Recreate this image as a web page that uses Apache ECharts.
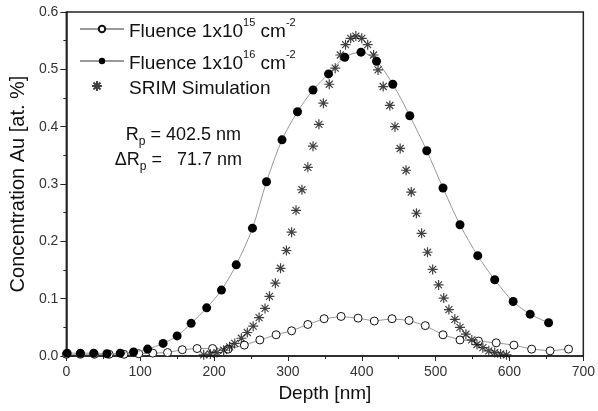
<!DOCTYPE html>
<html>
<head>
<meta charset="utf-8">
<script src="https://cdn.jsdelivr.net/npm/echarts@6/dist/echarts.min.js"></script>
<style>
html,body{margin:0;padding:0;background:#fff;}
#chart{width:598px;height:411px;}
</style>
</head>
<body>
<div id="chart"></div>
<script>
// ---- data ----
var seriesNames = ['Fluence 1x10^15 cm^-2', 'Fluence 1x10^16 cm^-2', 'SRIM Simulation'];

var lowX = [0, 19, 38, 58, 78, 98, 117, 137, 157, 177, 198, 219, 241, 262, 284, 305, 327, 349, 372, 395, 417, 441, 464, 486, 510, 533, 558, 582, 606, 630, 655, 680];
var lowY = [0.003, 0.003, 0.003, 0.003, 0.003, 0.004, 0.005, 0.006, 0.011, 0.013, 0.013, 0.012, 0.019, 0.028, 0.037, 0.044, 0.055, 0.065, 0.069, 0.066, 0.061, 0.065, 0.062, 0.053, 0.037, 0.028, 0.026, 0.023, 0.019, 0.012, 0.009, 0.012];

var highX = [1, 19, 37, 55, 73, 91, 110, 131, 150, 169, 190, 210, 230, 252, 271, 292, 313, 334, 355, 377, 399, 420, 442, 465, 488, 510, 533, 557, 580, 605, 628, 653];
var highY = [0.005, 0.005, 0.005, 0.004, 0.005, 0.007, 0.012, 0.022, 0.035, 0.057, 0.084, 0.115, 0.159, 0.223, 0.304, 0.377, 0.426, 0.464, 0.492, 0.521, 0.530, 0.514, 0.474, 0.419, 0.358, 0.293, 0.229, 0.175, 0.133, 0.095, 0.073, 0.058];

var srimX = [186, 195, 204, 213, 221, 228, 237, 245, 253, 261, 269, 275, 283, 290, 298, 305, 311, 319, 327, 334, 342, 348, 356, 364, 371, 378, 385, 392, 400, 408, 416, 422, 429, 438, 445, 452, 460, 467, 474, 481, 489, 496, 504, 511, 518, 526, 533, 541, 549, 556, 564, 572, 580, 588, 596];
var srimY = [0.002, 0.0035, 0.006, 0.010, 0.016, 0.022, 0.031, 0.041, 0.052, 0.067, 0.083, 0.104, 0.127, 0.153, 0.184, 0.216, 0.254, 0.290, 0.329, 0.366, 0.404, 0.441, 0.474, 0.502, 0.525, 0.543, 0.554, 0.558, 0.554, 0.543, 0.525, 0.499, 0.470, 0.437, 0.400, 0.362, 0.324, 0.286, 0.249, 0.214, 0.181, 0.151, 0.124, 0.101, 0.081, 0.064, 0.050, 0.038, 0.028, 0.020, 0.0145, 0.009, 0.006, 0.0035, 0.002];

var xTicks = {min: 0, max: 700, interval: 100};
var yTicks = {min: 0, max: 0.6, interval: 0.1};

function pairs(xs, ys) { return xs.map(function (x, i) { return [x, ys[i]]; }); }

var FONT = 'Liberation Sans, Arial';
var legendRich = {
  n: {fontSize: 19, fontFamily: FONT, color: '#111', lineHeight: 24, verticalAlign: 'bottom'},
  sup: {fontSize: 11, fontFamily: FONT, color: '#111', lineHeight: 11, verticalAlign: 'top'}
};
var legendLabels = {};
legendLabels[seriesNames[0]] = '{n|Fluence 1x10}{sup|15}{n| cm}{sup|-2}';
legendLabels[seriesNames[1]] = '{n|Fluence 1x10}{sup|16}{n| cm}{sup|-2}';
legendLabels[seriesNames[2]] = '{n|SRIM Simulation}';

var starPath = 'path://M5 0 L5 10 M0 5 L10 5 M1.5 1.5 L8.5 8.5 M1.5 8.5 L8.5 1.5';

function mkLegend(name, left, top, w, h, padLeft) {
  return {
    data: [name], left: left, top: top, itemWidth: w, itemHeight: h, itemGap: 4,
    selectedMode: false,
    formatter: function (n) { return legendLabels[n]; },
    textStyle: {rich: legendRich, padding: [0, 0, 0, padLeft]}
  };
}

var chart = echarts.init(document.getElementById('chart'), null, {renderer: 'canvas'});
chart.setOption({
  animation: false,
  backgroundColor: '#fff',
  grid: {left: 65, right: 12, top: 12, bottom: 55, show: true, borderColor: '#222', borderWidth: 1.5, backgroundColor: 'transparent'},
  legend: [
    mkLegend(seriesNames[0], 74, 12, 44, 8, 0),
    mkLegend(seriesNames[1], 74, 44, 44, 8, 0),
    mkLegend(seriesNames[2], 86, 74, 10, 10, 22)
  ],
  xAxis: {
    type: 'value', min: xTicks.min, max: xTicks.max, interval: xTicks.interval,
    name: 'Depth [nm]', nameLocation: 'middle', nameGap: 28,
    nameTextStyle: {fontSize: 19, fontFamily: FONT, color: '#111'},
    axisLine: {show: true, lineStyle: {color: '#222', width: 1.5}},
    axisTick: {show: true, inside: false, length: 5, lineStyle: {color: '#222'}},
    minorTick: {show: true, splitNumber: 2, length: 3, lineStyle: {color: '#222'}},
    axisLabel: {fontSize: 14, fontFamily: FONT, color: '#333', margin: 9},
    splitLine: {show: false}
  },
  yAxis: {
    type: 'value', min: yTicks.min, max: yTicks.max, interval: yTicks.interval,
    name: 'Concentration Au [at. %]', nameLocation: 'middle', nameGap: 34,
    nameTextStyle: {fontSize: 20, fontFamily: FONT, color: '#111'},
    axisLine: {show: true, lineStyle: {color: '#222', width: 1.5}},
    axisTick: {show: true, inside: false, length: 6, lineStyle: {color: '#222'}},
    minorTick: {show: true, splitNumber: 2, length: 3, lineStyle: {color: '#222'}},
    axisLabel: {fontSize: 14, fontFamily: FONT, color: '#333', margin: 8,
      formatter: function (v) { return v.toFixed(1); }},
    splitLine: {show: false}
  },
  graphic: [
    {type: 'text', right: 598 - 241, top: 126, style: {
      text: '{r|R}{s|p}{r| = 402.5 nm}', align: 'right',
      rich: {r: {fontSize: 18, fontFamily: FONT, fill: '#111', lineHeight: 22, verticalAlign: 'top'},
             s: {fontSize: 12, fontFamily: FONT, fill: '#111', lineHeight: 12, verticalAlign: 'bottom'}}
    }},
    {type: 'text', right: 598 - 242, top: 151, style: {
      text: '{r|\u0394R}{s|p}{r| =   71.7 nm}', align: 'right',
      rich: {r: {fontSize: 18, fontFamily: FONT, fill: '#111', lineHeight: 22, verticalAlign: 'top'},
             s: {fontSize: 12, fontFamily: FONT, fill: '#111', lineHeight: 12, verticalAlign: 'bottom'}}
    }}
  ],
  series: [
    {
      name: seriesNames[0], type: 'line', data: pairs(lowX, lowY),
      symbol: 'circle', symbolSize: 8, showSymbol: true,
      itemStyle: {color: '#fff', borderColor: '#111', borderWidth: 1},
      lineStyle: {color: '#999', width: 1}, z: 3
    },
    {
      name: seriesNames[1], type: 'line', data: pairs(highX, highY), smooth: 0.3,
      symbol: 'circle', symbolSize: 9, showSymbol: true,
      itemStyle: {color: '#000', borderColor: '#000', borderWidth: 0},
      lineStyle: {color: '#999', width: 1}, z: 4
    },
    {
      name: seriesNames[2], type: 'scatter', data: pairs(srimX, srimY),
      symbol: starPath, symbolSize: 10,
      itemStyle: {color: 'transparent', borderColor: '#111', borderWidth: 1.2}, z: 5
    }
  ]
});
</script>
</body>
</html>
